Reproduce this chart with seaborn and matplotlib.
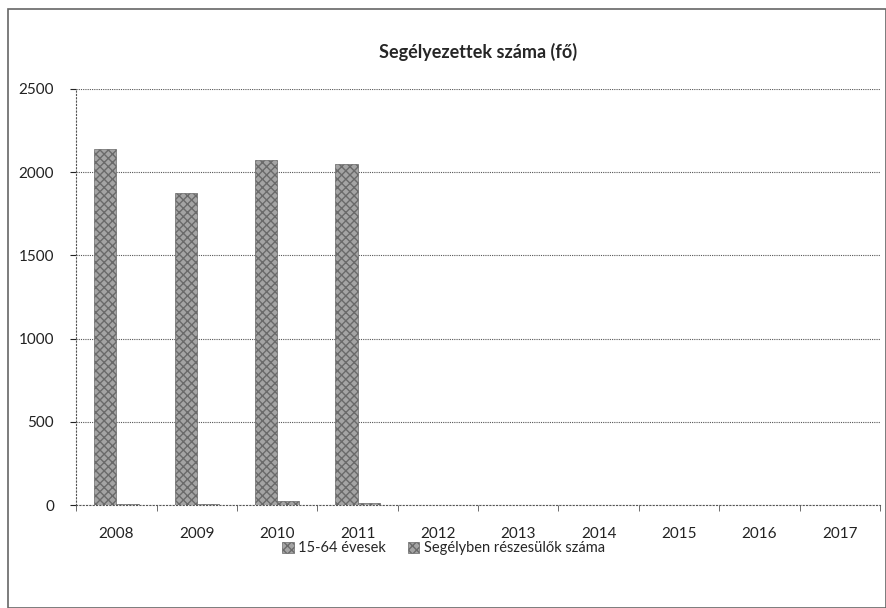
import seaborn as sns
import pandas as pd
import matplotlib.pyplot as plt
from matplotlib.patches import Rectangle

years = ['2008', '2009', '2010', '2011', '2012', '2013', '2014', '2015', '2016', '2017']
evesek = [2140, 1875, 2075, 2050, 0, 0, 0, 0, 0, 0]
segelyben = [10, 10, 25, 12, 0, 0, 0, 0, 0, 0]
series_names = ['15-64 évesek', 'Segélyben részesülők száma']

df = pd.DataFrame({
    'ev': years * 2,
    'fo': evesek + segelyben,
    'sorozat': [series_names[0]] * len(years) + [series_names[1]] * len(years),
})

sns.set_style('white')
plt.rcParams['font.family'] = ['Lato', 'DejaVu Sans']

fig = plt.figure(figsize=(8.87, 6.08), dpi=100)
ax = fig.add_axes([0.086, 0.169, 0.906, 0.685])

sns.barplot(data=df, x='ev', y='fo', hue='sorozat', palette=['#a4a4a4', '#a4a4a4'],
            width=0.55, ax=ax, legend=True)

for p in ax.patches:
    p.set_hatch('xxxx')
    p.set_edgecolor('#6a6a6a')
    p.set_linewidth(0.5)

ax.set_ylim(0, 2500)
ax.set_yticks([0, 500, 1000, 1500, 2000, 2500])
ax.yaxis.grid(True, linestyle=(0, (1, 1)), color='#555555', linewidth=0.8)
ax.set_axisbelow(True)
for s in ['top', 'right']:
    ax.spines[s].set_visible(False)
ax.spines['left'].set_linestyle((0, (1, 2)))
ax.spines['bottom'].set_linestyle((0, (1, 2)))
ax.spines['left'].set_color('#555555')
ax.spines['bottom'].set_color('#555555')
ax.set_xlabel('')
ax.set_ylabel('')
ax.set_xticks([i + 0.5 for i in range(-1, len(years))], minor=True)
ax.tick_params(axis='both', labelsize=11, colors='#222222', length=4, left=True, bottom=False)
ax.tick_params(axis='x', which='minor', bottom=True, length=4, color='#555555')
ax.tick_params(axis='y', pad=12)
ax.tick_params(axis='x', which='major', pad=12)

ax.set_title('Segélyezettek száma (fő)', fontsize=13, fontweight='bold', pad=22)

h, l = ax.get_legend_handles_labels()
ax.get_legend().remove()
fig.legend(h, l, loc='center', bbox_to_anchor=(0.5, 0.098), ncol=2, frameon=False,
           fontsize=10.5, handlelength=0.8, handleheight=0.8, columnspacing=1.5,
           handletextpad=0.3)

fig.patches.append(Rectangle((0.009, 0.0), 0.99, 0.985, transform=fig.transFigure,
                             fill=False, edgecolor='#666666', linewidth=1.2))

fig.savefig('out.png', dpi=100)
